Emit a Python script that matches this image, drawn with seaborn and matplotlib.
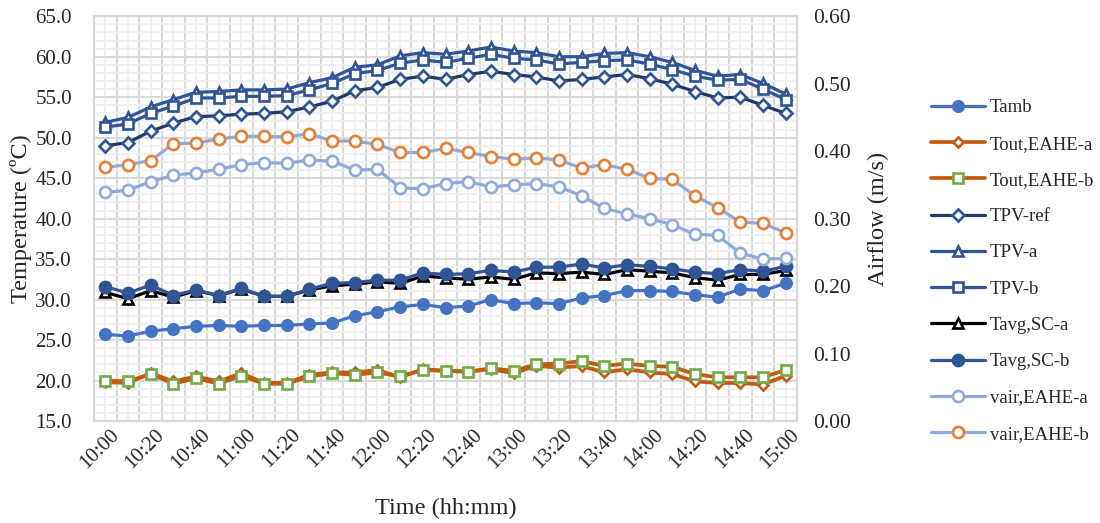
import matplotlib
matplotlib.use("Agg")
import matplotlib.pyplot as plt
import matplotlib.transforms as mtransforms
from matplotlib.ticker import FixedLocator, FormatStrFormatter, MultipleLocator
import numpy as np
import pandas as pd
import seaborn as sns

# ---- data -------------------------------------------------------------
times = ["10:00", "10:10", "10:20", "10:30", "10:40", "10:50",
         "11:00", "11:10", "11:20", "11:30", "11:40", "11:50",
         "12:00", "12:10", "12:20", "12:30", "12:40", "12:50",
         "13:00", "13:10", "13:20", "13:30", "13:40", "13:50",
         "14:00", "14:10", "14:20", "14:30", "14:40", "14:50", "15:00"]

t_amb = [25.7, 25.5, 26.1, 26.4, 26.7, 26.8, 26.7, 26.8, 26.8, 27.0, 27.1,
         28.0, 28.5, 29.1, 29.4, 29.0, 29.2, 30.0, 29.5, 29.6, 29.5, 30.2,
         30.5, 31.1, 31.1, 31.0, 30.6, 30.3, 31.3, 31.1, 32.0]

t_out_a = [19.8, 19.7, 20.9, 19.9, 20.5, 19.9, 20.9, 19.7, 19.7, 20.7, 21.0,
           21.0, 21.3, 20.4, 21.4, 21.2, 21.1, 21.4, 20.9, 21.8, 21.6, 21.8,
           21.0, 21.4, 21.0, 20.8, 19.9, 19.7, 19.7, 19.5, 20.6]

t_out_b = [20.0, 19.9, 20.8, 19.6, 20.3, 19.6, 20.6, 19.6, 19.6, 20.5, 20.9,
           20.7, 21.0, 20.5, 21.3, 21.2, 21.1, 21.5, 21.2, 22.0, 22.1, 22.4,
           21.8, 22.1, 21.8, 21.7, 20.8, 20.4, 20.4, 20.4, 21.3]

t_pv_ref = [49.0, 49.4, 50.8, 51.8, 52.6, 52.7, 52.9, 53.0, 53.2, 53.8, 54.5,
            55.8, 56.2, 57.2, 57.6, 57.2, 57.8, 58.2, 57.8, 57.5, 57.0, 57.2,
            57.5, 57.8, 57.3, 56.6, 55.7, 54.9, 55.0, 54.0, 53.0]

t_pv_a = [51.9, 52.5, 53.8, 54.7, 55.6, 55.7, 55.9, 55.9, 56.0, 56.8, 57.4,
          58.7, 59.0, 60.1, 60.5, 60.3, 60.7, 61.2, 60.7, 60.5, 60.0, 60.0,
          60.4, 60.5, 60.0, 59.3, 58.3, 57.6, 57.8, 56.7, 55.4]

t_pv_b = [51.3, 51.7, 53.0, 53.9, 54.9, 54.9, 55.1, 55.1, 55.2, 55.9, 56.7,
          57.9, 58.3, 59.2, 59.6, 59.3, 59.8, 60.3, 59.8, 59.6, 59.1, 59.3,
          59.5, 59.6, 59.1, 58.4, 57.6, 57.1, 57.2, 56.0, 54.7]

t_sc_a = [30.9, 30.1, 31.1, 30.3, 31.1, 30.5, 31.3, 30.4, 30.4, 31.2, 31.7,
          31.9, 32.2, 32.0, 32.9, 32.7, 32.5, 32.8, 32.5, 33.3, 33.2, 33.4,
          33.1, 33.7, 33.5, 33.3, 32.7, 32.4, 33.1, 33.1, 33.6]

t_sc_b = [31.6, 30.8, 31.8, 30.5, 31.2, 30.5, 31.4, 30.4, 30.4, 31.3, 32.0,
          32.1, 32.4, 32.4, 33.3, 33.1, 33.2, 33.6, 33.4, 34.0, 34.0, 34.4,
          33.9, 34.3, 34.1, 33.8, 33.4, 33.2, 33.7, 33.5, 34.1]

v_air_a = [0.339, 0.342, 0.355, 0.364, 0.368, 0.373, 0.380, 0.383, 0.382,
           0.387, 0.385, 0.372, 0.373, 0.346, 0.344, 0.352, 0.355, 0.347,
           0.350, 0.352, 0.347, 0.334, 0.315, 0.307, 0.300, 0.291, 0.277,
           0.275, 0.249, 0.240, 0.241]

v_air_b = [0.376, 0.380, 0.386, 0.411, 0.412, 0.418, 0.422, 0.422, 0.421,
           0.426, 0.415, 0.415, 0.410, 0.398, 0.398, 0.404, 0.398, 0.392,
           0.388, 0.390, 0.387, 0.375, 0.380, 0.373, 0.360, 0.358, 0.334,
           0.316, 0.295, 0.293, 0.279]

# ---- style ------------------------------------------------------------
sns.set_style("white")
plt.rcParams["font.family"] = ["Liberation Serif", "DejaVu Serif"]
plt.rcParams["axes.unicode_minus"] = False

C_AMB = "#4472C4"
C_OUT = "#C55A11"
C_GREEN = "#70AD47"
C_REF = "#203864"
C_PV = "#2F5597"
C_VAIR = "#8FAADC"
C_ORANGE = "#ED7D31"

fig = plt.figure(figsize=(11.0, 5.23), dpi=100)
ax = fig.add_axes([0.0855, 0.195, 0.639, 0.774])
ax2 = ax.twinx()

x = np.arange(len(times))
handles = []


def draw(axis, values, label, color, marker, ms, mfc, mec, lw=2.3, mew=1.9):
    sns.lineplot(x=x, y=values, ax=axis, color=color, linewidth=lw,
                 marker=marker, markersize=ms, markerfacecolor=mfc,
                 markeredgecolor=mec, markeredgewidth=mew, legend=False)
    line = axis.lines[-1]
    line.set_label(label)
    handles.append(line)


draw(ax, t_amb, "Tamb", C_AMB, "o", 7.5, C_AMB, C_AMB)
draw(ax, t_out_a, "Tout,EAHE-a", C_OUT, "D", 5, "white", C_OUT, lw=2.7)
draw(ax, t_out_b, "Tout,EAHE-b", C_OUT, "s", 7.5, "white", C_GREEN, lw=2.7)
draw(ax, t_pv_ref, "TPV-ref", C_REF, "D", 6, "white", C_PV)
draw(ax, t_pv_a, "TPV-a", C_PV, "^", 7.5, "white", C_PV)
draw(ax, t_pv_b, "TPV-b", C_PV, "s", 7.5, "white", C_PV)
draw(ax, t_sc_a, "Tavg,SC-a", "black", "^", 7, "white", "black")
draw(ax, t_sc_b, "Tavg,SC-b", C_PV, "o", 8, C_PV, C_PV)
draw(ax2, v_air_a, "vair,EAHE-a", C_VAIR, "o", 8, "white", C_VAIR)
draw(ax2, v_air_b, "vair,EAHE-b", C_VAIR, "o", 8, "white", C_ORANGE)

# ---- axes -------------------------------------------------------------
ax.set_xlim(-0.5, len(times) - 0.5)
ax.set_ylim(15, 65)
ax2.set_ylim(0, 0.6)

ax.yaxis.set_major_locator(MultipleLocator(5))
ax.yaxis.set_minor_locator(MultipleLocator(1))
ax.yaxis.set_major_formatter(FormatStrFormatter("%.1f"))
ax2.yaxis.set_major_locator(MultipleLocator(0.1))
ax2.yaxis.set_major_formatter(FormatStrFormatter("%.2f"))

# category boundaries carry the main vertical grid, centres the light one
ax.xaxis.set_major_locator(FixedLocator(np.arange(-0.5, len(times), 1.0)))
ax.xaxis.set_minor_locator(FixedLocator(x))
ax.set_xticklabels([], minor=False)
ax.set_xticks(x, [t if i % 2 == 0 else "" for i, t in enumerate(times)],
              minor=True)

ax.grid(which="major", color="#D9D9D9", linewidth=1.5)
ax.grid(which="minor", color="#F0F0F0", linewidth=1.3)
ax.set_axisbelow(True)

for a in (ax, ax2):
    for s in a.spines.values():
        s.set_color("#D9D9D9")
        s.set_linewidth(1.5)
    a.tick_params(which="both", length=0)

ax.tick_params(axis="y", labelsize=15, pad=16)
ax2.tick_params(axis="y", labelsize=15.5, pad=12)
ax.tick_params(axis="x", which="minor", labelsize=15, pad=8)
shift = mtransforms.ScaledTranslation(8 / 72, 0, fig.dpi_scale_trans)
for lbl in ax.get_xticklabels(minor=True):
    lbl.set_rotation(45)
    lbl.set_ha("right")
    lbl.set_va("center")
    lbl.set_rotation_mode("anchor")
    lbl.set_transform(lbl.get_transform() + shift)

ax.set_xlabel("Time (hh:mm)", fontsize=17.5, labelpad=18)
ax.set_ylabel("Temperature (ºC)", fontsize=17.5, labelpad=2)
ax2.set_ylabel("Airflow (m/s)", fontsize=17.5, rotation=90, labelpad=12)

fig.legend(handles=handles, loc="upper left",
           bbox_to_anchor=(0.846, 0.81), frameon=False, fontsize=13.5,
           handlelength=2.9, handletextpad=0.25, labelspacing=1.02,
           borderpad=0, borderaxespad=0)

fig.savefig("out.png", dpi=100)
